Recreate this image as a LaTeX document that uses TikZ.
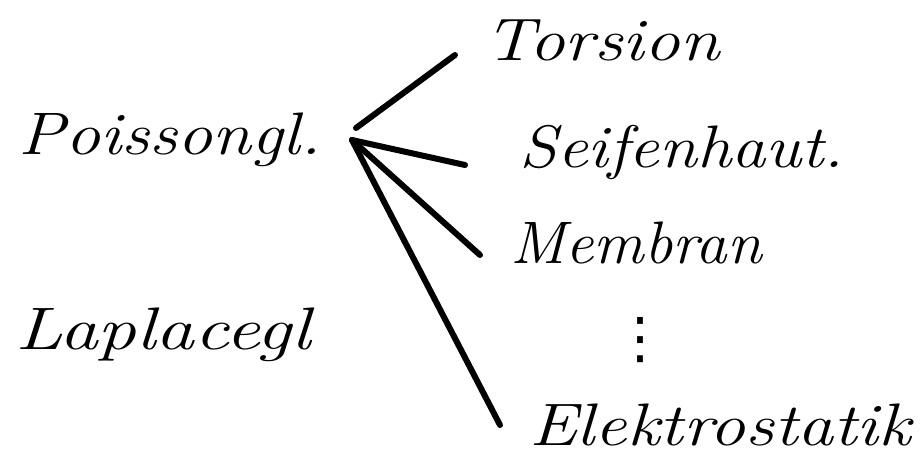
\documentclass[tikz,border=0pt]{standalone}
\usepackage{fontspec}
\newfontfamily\dvfont{DejaVu Sans}
\newcommand{\wide}[2]{\scalebox{#1}[1]{#2}}
\begin{document}
\begin{tikzpicture}[x=1pt,y=-1pt,
  lbl/.style={font=\fontsize{60}{70}\selectfont\itshape, inner sep=0pt, anchor=center},
  stroke/.style={line width=6pt, line cap=round, line join=round}]
\useasboundingbox (0,0) rectangle (921,467);
\node[lbl] (poisson) at (170,140) {\wide{1.17}{Poissongl.}};
\node[lbl] (laplace) at (163,335) {\wide{1.29}{Laplacegl}};
\node[lbl] (torsion) at (602,40) {\wide{1.19}{Torsion}};
\node[lbl] (seifen) at (682,152) {\wide{1.14}{Seifenhaut.}};
\node[lbl] (membran) at (636,243) {\wide{1.05}{Membran}};
\node[inner sep=0pt, font=\fontsize{56}{60}\selectfont\dvfont] (dots) at (640,340) {⋮};
\node[lbl] (elektro) at (720,425) {\wide{1.2}{Elektrostatik}};
\coordinate (hub) at (352,140);
\coordinate (hubt) at (356,128);
\coordinate (e1) at (455,55);
\coordinate (e2) at (465,165);
\coordinate (e3) at (480,255);
\coordinate (e4) at (500,425);
\draw[stroke] (hubt) -- (e1);
\draw[stroke] (hub) -- (e2);
\draw[stroke] (hub) -- (e3);
\draw[stroke] (hub) -- (e4);
\end{tikzpicture}
\end{document}
